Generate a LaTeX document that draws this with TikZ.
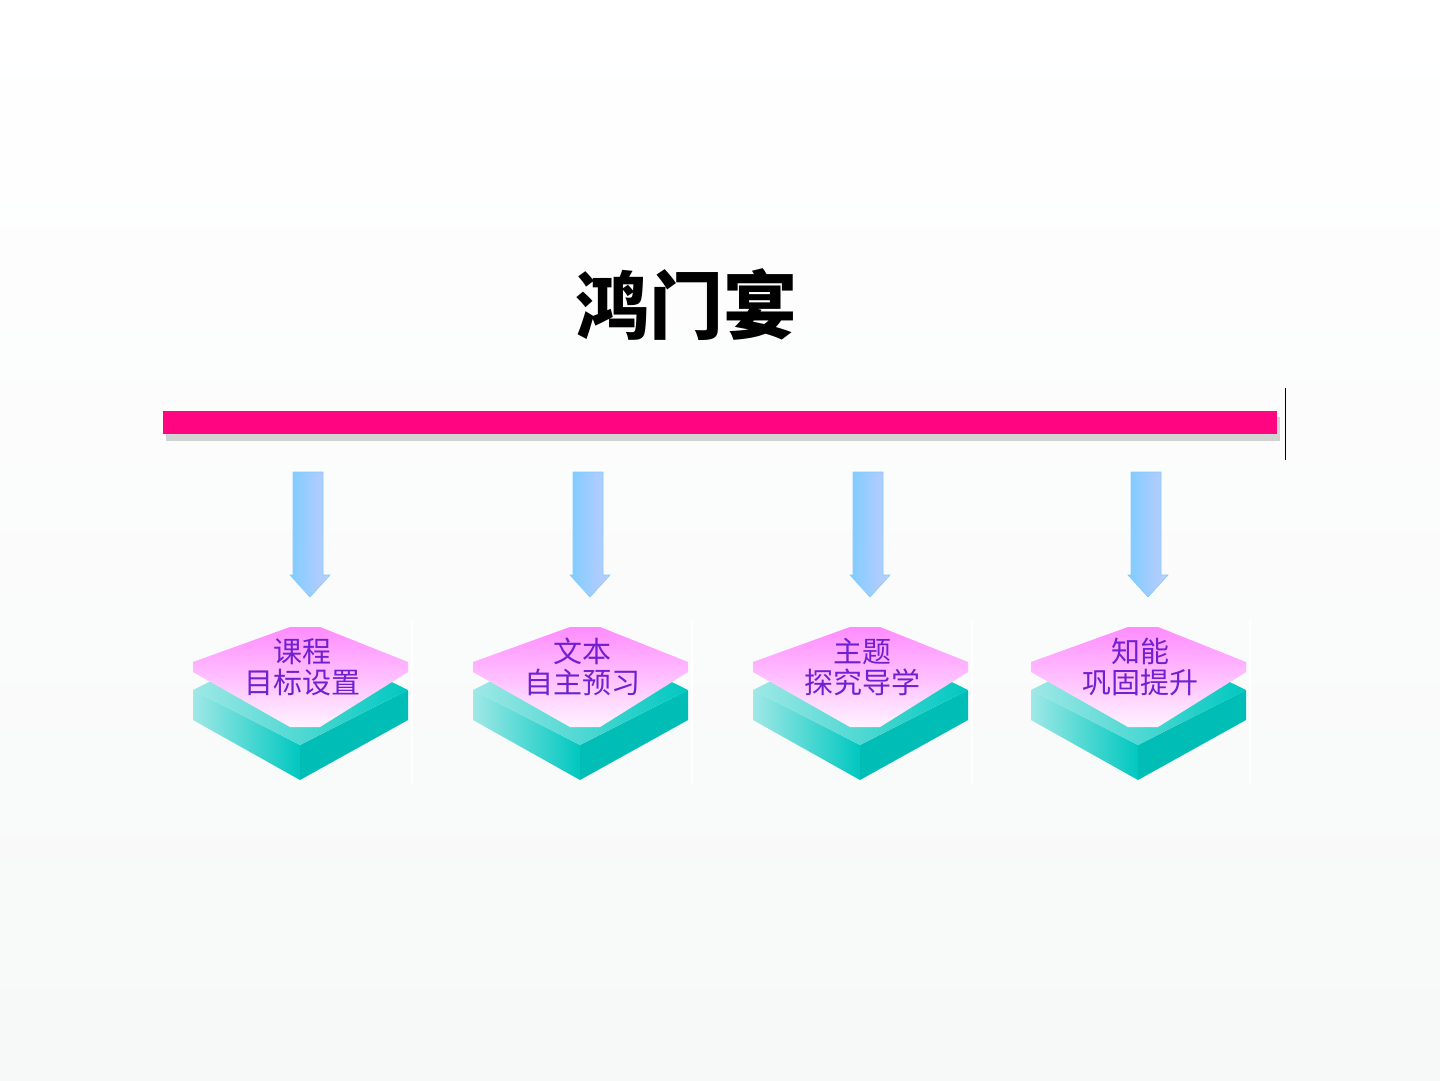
\documentclass[tikz,border=0pt]{standalone}
\usepackage{fontspec}
\newfontfamily\cjk{Noto Sans CJK SC}
\newfontfamily\cjkm{Noto Sans CJK SC Medium}
\definecolor{teal1}{HTML}{00C8C0}
\definecolor{teal2}{HTML}{9FE8E6}
\definecolor{lblc}{HTML}{7020D0}
\definecolor{barc}{HTML}{FF0582}
\begin{document}
\begin{tikzpicture}[x=1pt,y=-1pt,
  lbl/.style={font=\cjk\fontsize{29}{34}\selectfont,text=lblc,align=center},
  arr/.style={left color=blue!40!cyan!50,right color=cyan!20!blue!25,draw=blue!40!cyan!50,line width=0.6pt}]
\useasboundingbox (0,0) rectangle (1440,1080);
\shade[top color=white,bottom color=cyan!7!gray!6] (0,0) rectangle (1440,1080);
\node[font=\cjk\bfseries\fontsize{74}{78}\selectfont] (title) at (686,305) {鸿门宴};
\fill[gray!35] (166,417) rectangle (1280,441);
\fill[barc] (163,411) rectangle (1277,434);
\coordinate (vt) at (1285,388); \coordinate (vb) at (1285,460);
\draw[line width=1pt] (vt) -- (vb);
\foreach \cx/\a/\b/\n in {300/课程/目标设置/1,580/文本/自主预习/2,860/主题/探究导学/3,1138/知能/巩固提升/4}{
  \begin{scope}[shift={(\cx,0)}]
  \shade[arr] (-7,472) -- (23,472) -- (23,575) -- (30,575) -- (10,597) -- (-10,575) -- (-7,575) -- cycle;
  \shade[left color=teal2, right color=teal1] (-107,690) -- (0,745) -- (0,780) -- (-107,720) -- cycle;
  \fill[teal1!95!black] (0,745) -- (108,690) -- (108,720) -- (0,780) -- cycle;
  \shade[left color=teal2, right color=teal1] (-107,690) -- (0,637) -- (108,690) -- (0,745) -- cycle;
  \shade[top color=magenta!45,bottom color=magenta!5!white] (-10,627) -- (20,627) -- (108,662) -- (108,672) -- (20,727) -- (-10,727) -- (-107,672) -- (-107,662) -- cycle;
  \node[lbl] (t\n) at (2,667) {\a\\[-3pt]\b};
  \end{scope}}
\foreach \x in {412,692,972,1250}{\draw[white,line width=1.5pt] (\x,620) -- (\x,785);}
\end{tikzpicture}
\end{document}
